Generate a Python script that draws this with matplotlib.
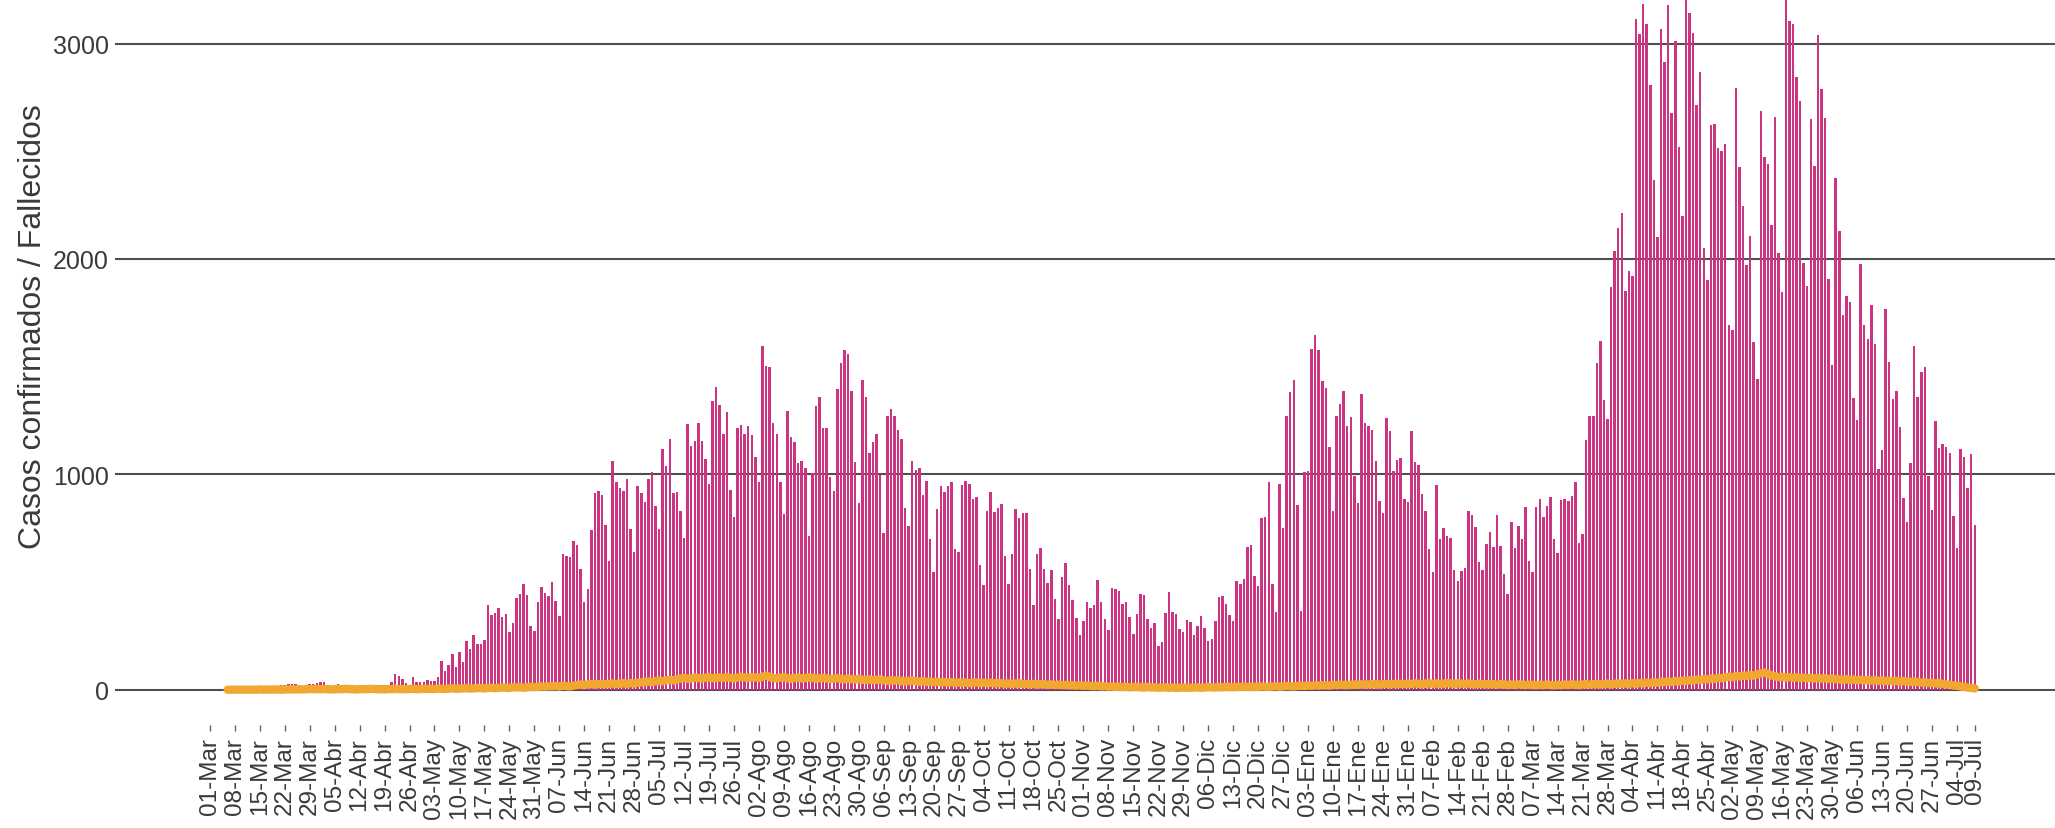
import matplotlib.pyplot as plt
import matplotlib.dates as mdates
import numpy as np
import pandas as pd

plt.rcParams['font.family'] = ['Liberation Sans', 'DejaVu Sans']

# casos confirmados diarios (desde 01-Mar-2020)
casos_mar20 = [0, 0, 0, 0, 0, 1, 0, 2, 1, 3, 2, 5, 4, 6, 8, 10, 12, 15, 10, 12,
               23, 23, 28, 26, 28, 20, 17, 10, 28, 28, 31]
casos_abr20 = [34, 34, 22, 10, 10, 26, 22, 17, 10, 10, 10, 10, 10, 22, 12, 22, 22, 22, 22, 23,
               36, 71, 64, 51, 29, 20, 59, 34, 36, 37]
casos_may20 = [43, 40, 39, 59, 131, 88, 116, 167, 105, 175, 130, 224, 190, 255, 213, 212, 230,
               391, 348, 358, 379, 338, 352, 269, 311, 426, 443, 491, 440, 294, 273]
casos_jun20 = [406, 479, 451, 437, 502, 413, 343, 632, 621, 618, 689, 672, 561, 406, 467, 742,
               912, 922, 904, 763, 598, 1063, 966, 938, 922, 980, 746, 641, 947, 913]
casos_jul20 = [870, 980, 1009, 854, 746, 1117, 1040, 1165, 913, 919, 830, 703, 1233, 1133, 1154,
               1239, 1154, 1071, 956, 1341, 1406, 1321, 1188, 1290, 925, 802, 1213, 1231, 1187,
               1225, 1182]
casos_ago20 = [1080, 966, 1598, 1503, 1496, 1239, 1185, 964, 814, 1295, 1173, 1151, 1051, 1063,
               1031, 714, 1007, 1318, 1360, 1214, 1214, 989, 921, 1395, 1516, 1576, 1557, 1389,
               1057, 868, 1438]
casos_sep20 = [1361, 1098, 1149, 1187, 997, 729, 1273, 1302, 1270, 1204, 1166, 842, 760, 1060,
               1020, 1031, 904, 970, 701, 545, 837, 946, 919, 946, 966, 655, 641, 950, 970, 955]
casos_oct20 = [884, 896, 579, 484, 830, 919, 825, 844, 862, 621, 490, 630, 837, 799, 822, 819,
               561, 392, 630, 660, 561, 497, 556, 422, 329, 521, 589, 487, 417, 332, 252]
casos_nov20 = [317, 409, 379, 391, 507, 405, 329, 275, 471, 467, 460, 400, 406, 337, 260, 352,
               443, 440, 329, 286, 309, 204, 221, 358, 453, 360, 352, 283, 268, 325]
casos_dic20 = [316, 253, 296, 343, 288, 227, 233, 318, 431, 436, 396, 346, 321, 505, 492, 515,
               664, 674, 528, 482, 795, 803, 964, 492, 359, 956, 753, 1272, 1384, 1439, 856]
casos_ene21 = [366, 1012, 1017, 1583, 1646, 1578, 1434, 1403, 1129, 830, 1270, 1325, 1386, 1224,
               1265, 992, 868, 1373, 1240, 1224, 1204, 1063, 876, 821, 1260, 1201, 1017, 1068,
               1075, 884, 873]
casos_feb21 = [1201, 1058, 1045, 909, 831, 651, 545, 949, 700, 753, 715, 704, 558, 505, 553, 566,
               830, 813, 757, 594, 558, 677, 730, 662, 810, 666, 538, 442]
casos_mar21 = [777, 657, 760, 700, 850, 599, 545, 846, 884, 801, 854, 893, 699, 633, 881, 884,
               876, 901, 965, 682, 722, 1158, 1273, 1273, 1517, 1621, 1343, 1259, 1871, 2035, 2143]
casos_abr21 = [2212, 1850, 1942, 1923, 3114, 3044, 3183, 3091, 2807, 2368, 2103, 3070, 2914, 3177,
               2677, 3013, 2519, 2200, 3300, 3141, 3051, 2714, 2870, 2051, 1901, 2624, 2626, 2515,
               2500, 2532]
casos_may21 = [1695, 1672, 2792, 2427, 2246, 1973, 2107, 1616, 1443, 2689, 2473, 2441, 2158, 2660,
               2027, 1847, 3300, 3103, 3091, 2847, 2733, 1983, 1874, 2649, 2431, 3040, 2788, 2656,
               1906, 1506, 2376]
casos_jun21 = [2132, 1742, 1830, 1801, 1355, 1250, 1977, 1691, 1628, 1788, 1607, 1023, 1111, 1767,
               1521, 1351, 1387, 1219, 889, 777, 1051, 1597, 1357, 1475, 1500, 990, 832, 1248,
               1122, 1139]
casos_jul21 = [1128, 1101, 807, 660, 1118, 1082, 935, 1095, 763]

# fallecidos diarios (desde 06-Mar-2020)
fall_mar20 = [0, 0, 0, 0, 0, 0, 0, 0, 0, 1, 0, 1, 0, 1, 1, 0, 1, 2, 1, 1, 2, 1, 2, 3, 2, 3]
fall_abr20 = [2, 3, 2, 1, 2, 3, 2, 4, 3, 2, 1, 2, 3, 2, 4, 3, 2, 2, 1, 3, 2, 4, 2, 3, 2, 3, 4, 2, 3, 4]
fall_may20 = [3, 4, 3, 5, 4, 3, 5, 6, 4, 5, 6, 7, 5, 6, 8, 7, 6, 8, 9, 7, 8, 10, 9, 8, 11, 10, 12,
              9, 11, 13, 12]
fall_jun20 = [13, 15, 14, 16, 15, 17, 14, 18, 16, 15, 19, 22, 24, 21, 25, 27, 24, 26, 28, 25, 27,
              29, 26, 28, 30, 27, 31, 29, 32, 34]
fall_jul20 = [36, 38, 35, 40, 42, 39, 44, 46, 43, 48, 52, 55, 50, 53, 57, 54, 51, 56, 58, 53, 55,
              57, 54, 59, 55, 52, 56, 60, 57, 54, 58]
fall_ago20 = [57, 54, 60, 66, 58, 55, 52, 56, 59, 53, 50, 55, 57, 52, 54, 58, 55, 51, 53, 56, 52,
              49, 51, 54, 50, 48, 52, 49, 47, 50, 46]
fall_sep20 = [45, 48, 44, 46, 49, 43, 41, 44, 42, 45, 40, 38, 41, 43, 39, 37, 40, 36, 38, 35, 37,
              34, 36, 33, 35, 32, 34, 31, 33, 30]
fall_oct20 = [33, 34, 31, 32, 30, 33, 29, 31, 30, 28, 29, 27, 28, 30, 26, 27, 25, 27, 24, 26, 25,
              23, 24, 22, 23, 21, 22, 20, 21, 19, 20]
fall_nov20 = [18, 19, 17, 16, 18, 15, 16, 14, 15, 13, 14, 12, 13, 11, 12, 13, 11, 10, 12, 10, 11,
              9, 10, 11, 9, 10, 8, 9, 10, 9]
fall_dic20 = [9, 10, 11, 9, 10, 12, 11, 10, 12, 11, 13, 12, 11, 13, 12, 14, 13, 12, 14, 13, 15, 14,
              13, 15, 16, 14, 15, 17, 16, 15, 17]
fall_ene21 = [18, 17, 19, 18, 20, 19, 21, 20, 19, 22, 21, 23, 22, 21, 23, 24, 22, 25, 23, 24, 26,
              25, 24, 26, 27, 25, 26, 28, 27, 26, 28]
fall_feb21 = [27, 29, 28, 26, 28, 30, 27, 29, 26, 28, 31, 29, 27, 30, 28, 26, 29, 27, 25, 28, 26,
              24, 27, 25, 23, 26, 24, 22]
fall_mar21 = [24, 22, 25, 23, 21, 24, 22, 20, 23, 21, 24, 22, 20, 23, 21, 24, 22, 25, 23, 21, 24,
              26, 23, 25, 27, 24, 26, 28, 25, 27, 29]
fall_abr21 = [27, 29, 26, 30, 28, 31, 29, 33, 30, 34, 32, 36, 35, 38, 36, 40, 38, 42, 40, 44, 43,
              47, 45, 49, 48, 52, 50, 55, 53, 57]
fall_may21 = [60, 58, 63, 61, 66, 64, 68, 65, 71, 76, 80, 72, 66, 62, 58, 60, 56, 59, 55, 57, 54,
              56, 53, 55, 52, 54, 51, 53, 50, 52, 49]
fall_jun21 = [48, 46, 49, 45, 47, 44, 46, 43, 45, 42, 44, 41, 43, 40, 42, 39, 41, 38, 40, 37, 36,
              38, 35, 33, 34, 31, 32, 29, 30, 27]
fall_jul21 = [25, 22, 20, 18, 15, 13, 10, 8, 6]

meses = ['Ene', 'Feb', 'Mar', 'Abr', 'May', 'Jun', 'Jul', 'Ago', 'Sep', 'Oct', 'Nov', 'Dic']

casos = np.array(casos_mar20 + casos_abr20 + casos_may20 + casos_jun20 + casos_jul20
                 + casos_ago20 + casos_sep20 + casos_oct20 + casos_nov20 + casos_dic20
                 + casos_ene21 + casos_feb21 + casos_mar21 + casos_abr21 + casos_may21
                 + casos_jun21 + casos_jul21, dtype=float)
fallecidos = np.array([np.nan] * 5 + fall_mar20 + fall_abr20 + fall_may20 + fall_jun20
                      + fall_jul20 + fall_ago20 + fall_sep20 + fall_oct20 + fall_nov20
                      + fall_dic20 + fall_ene21 + fall_feb21 + fall_mar21 + fall_abr21
                      + fall_may21 + fall_jun21 + fall_jul21, dtype=float)

fechas = pd.date_range('2020-03-01', periods=len(casos), freq='D')

W, H = 2055, 829
fig = plt.figure(figsize=(W / 100, H / 100), dpi=100)
ax = fig.add_axes([115 / W, 1 - 726 / H, 1 - 115 / W, 726 / H])

ax.bar(fechas, casos, width=0.7, color='#cc3380', zorder=2)
ax.plot(fechas, fallecidos, color='#f0a830', lw=6, solid_capstyle='round', zorder=3)

t0 = mdates.date2num(fechas[0])
ax.set_xlim(t0 - 26.6, t0 + 517.5)
ax.set_ylim(-164, 3207)

ticks = list(fechas[::7]) + [fechas[-1]]
ax.set_xticks(ticks)
ax.set_xticklabels([f'{d.day:02d}-{meses[d.month - 1]}' for d in ticks],
                   rotation=90, ha='center', va='top')
ax.set_yticks([0, 1000, 2000, 3000])
ax.set_yticklabels(['0', '1000', '2000', '3000'])

ax.grid(axis='y', color='#4f4f4f', lw=1.5, zorder=1)
ax.set_axisbelow(True)
for s in ax.spines.values():
    s.set_visible(False)

ax.tick_params(axis='x', length=4.5, width=1.0, color='#666666', pad=4,
               labelsize=17.5, labelcolor='#3a3a3a')
ax.tick_params(axis='y', length=0, pad=4.5, labelsize=18, labelcolor='#3a3a3a')

ax.set_ylabel('Casos confirmados / Fallecidos', fontsize=23, color='#3a3a3a')
ax.yaxis.set_label_coords(-0.0345, 0.55)

fig.savefig('out.png', dpi=100)
